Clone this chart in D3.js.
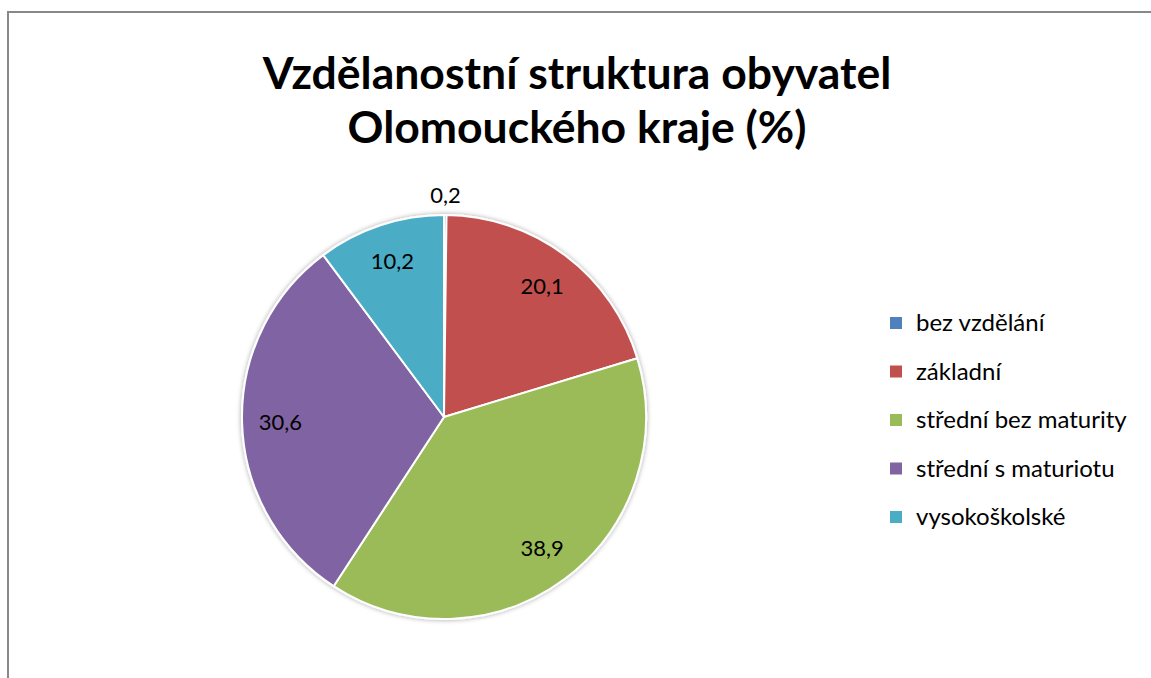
<!DOCTYPE html>
<html>
<head>
<meta charset="utf-8">
<script src="https://d3js.org/d3.v7.min.js"></script>
<style>
    body { margin: 0; background: #fff; }
    text { font-family: Lato, "Open Sans", sans-serif; }
</style>
</head>
<body>
<div id="chart"></div>
<script>
    // data
    var categories = ["bez vzdělání", "základní", "střední bez maturity", "střední s maturiotu", "vysokoškolské"];
    var values = [0.2, 20.1, 38.9, 30.6, 10.2];
    var colors = ["#4F81BD", "#C0504D", "#9BBB59", "#8064A2", "#4BACC6"];
    var titleLines = ["Vzdělanostní struktura obyvatel", "Olomouckého kraje (%)"];

    var width = 1151, height = 678;
    var cx = 444, cy = 417, radius = 202;

    var svg = d3.select("#chart").append("svg")
        .attr("width", width)
        .attr("height", height);

    // chart frame (cut off at right/bottom)
    svg.append("rect")
        .attr("x", 8).attr("y", 12)
        .attr("width", 1300).attr("height", 800)
        .attr("fill", "#fff")
        .attr("stroke", "#888")
        .attr("stroke-width", 2);

    // title
    svg.append("text")
        .attr("x", 577).attr("y", 89)
        .attr("text-anchor", "middle")
        .style("font-size", "44.5px")
        .style("font-weight", "bold")
        .attr("fill", "#000")
        .selectAll("tspan")
        .data(titleLines)
        .enter().append("tspan")
        .attr("x", 577)
        .attr("dy", function (d, i) { return i === 0 ? 0 : 54; })
        .text(function (d) { return d; });

    var data = categories.map(function (c, i) { return { name: c, value: values[i], color: colors[i] }; });

    var pie = d3.pie()
        .sort(null)
        .value(function (d) { return d.value; });

    var arc = d3.arc().innerRadius(0).outerRadius(radius);
    var labelArc = d3.arc().innerRadius(radius * 0.81).outerRadius(radius * 0.81);
    var outerArc = d3.arc().innerRadius(radius + 20).outerRadius(radius + 20);

    var defs = svg.append("defs");
    var filter = defs.append("filter").attr("id", "shadow")
        .attr("x", "-10%").attr("y", "-10%").attr("width", "120%").attr("height", "120%");
    filter.append("feGaussianBlur").attr("in", "SourceAlpha").attr("stdDeviation", 2.5);
    filter.append("feComponentTransfer").append("feFuncA").attr("type", "linear").attr("slope", 0.35);
    var merge = filter.append("feMerge");
    merge.append("feMergeNode");
    merge.append("feMergeNode").attr("in", "SourceGraphic");

    var g = svg.append("g")
        .attr("transform", "translate(" + cx + "," + cy + ")");

    var arcs = pie(data);

    g.append("g")
        .attr("filter", "url(#shadow)")
        .selectAll("path")
        .data(arcs)
        .enter().append("path")
        .attr("d", arc)
        .attr("fill", function (d) { return d.data.color; })
        .attr("stroke", "#fff")
        .attr("stroke-width", 2)
        .attr("stroke-linejoin", "round");

    // data labels
    g.selectAll("text.lbl")
        .data(arcs)
        .enter().append("text")
        .attr("class", "lbl")
        .attr("transform", function (d) {
            var p = d.data.value < 2 ? outerArc.centroid(d) : labelArc.centroid(d);
            return "translate(" + p + ")";
        })
        .attr("text-anchor", "middle")
        .attr("dy", "0.35em")
        .style("font-size", "22px")
        .attr("fill", "#000")
        .text(function (d) { return String(d.data.value).replace(".", ","); });

    // legend
    var legend = svg.append("g")
        .attr("transform", "translate(890,323)");

    var item = legend.selectAll("g")
        .data(data)
        .enter().append("g")
        .attr("transform", function (d, i) { return "translate(0," + (i * 48.5) + ")"; });

    item.append("rect")
        .attr("x", 0).attr("y", -6)
        .attr("width", 12).attr("height", 12)
        .attr("fill", function (d) { return d.color; });

    item.append("text")
        .attr("x", 26).attr("dy", "0.35em")
        .style("font-size", "24px")
        .attr("fill", "#000")
        .text(function (d) { return d.name; });
</script>
</body>
</html>
